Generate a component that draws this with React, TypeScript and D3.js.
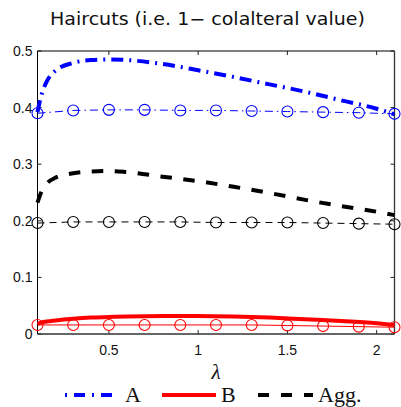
import React from "react";
import * as d3 from "d3";

const W = 401;
const H = 407;

// Thick curves (fine λ grid)
const lambdaFine = [0.1, 0.12, 0.15, 0.2, 0.3, 0.4, 0.5, 0.6, 0.8, 1.0, 1.2, 1.4, 1.6, 1.8, 2.0, 2.1];
const seriesA = [0.392, 0.42, 0.445, 0.465, 0.479, 0.484, 0.485, 0.484, 0.477, 0.466, 0.454, 0.441, 0.428, 0.413, 0.398, 0.388];
const seriesB = [0.018, 0.02, 0.022, 0.024, 0.027, 0.029, 0.03, 0.031, 0.032, 0.032, 0.031, 0.029, 0.026, 0.023, 0.019, 0.016];
const seriesAgg = [0.232, 0.25, 0.265, 0.276, 0.284, 0.287, 0.288, 0.286, 0.278, 0.27, 0.26, 0.249, 0.237, 0.226, 0.216, 0.21];

// Marker series (coarse λ grid)
const lambdaMarks = [0.1, 0.3, 0.5, 0.7, 0.9, 1.1, 1.3, 1.5, 1.7, 1.9, 2.1];
const marksA = [0.39, 0.395, 0.396, 0.396, 0.395, 0.395, 0.394, 0.393, 0.392, 0.391, 0.389];
const marksB = [0.016, 0.016, 0.016, 0.016, 0.016, 0.016, 0.016, 0.015, 0.014, 0.013, 0.012];
const marksAgg = [0.196, 0.198, 0.198, 0.198, 0.198, 0.197, 0.197, 0.197, 0.196, 0.195, 0.194];

const xTicks = [0.5, 1, 1.5, 2];
const yTicks = [0, 0.1, 0.2, 0.3, 0.4, 0.5];
const yTickLabels = ["0", "0.1", "0.2", "0.3", "0.4", "0.5"];
const xTickLabels = ["0.5", "1", "1.5", "2"];

const legendNames = ["A", "B", "Agg."];

const L = 37.5, R = 394.5, T = 51, B = 334;

export default function App() {
  const x = d3.scaleLinear().domain([0.1, 2.1]).range([L, R]);
  const y = d3.scaleLinear().domain([0, 0.5]).range([B, T]);

  const lineThick = (vals: number[]) =>
    d3.line<number>().x((_, i) => x(lambdaFine[i])).y((d) => y(d)).curve(d3.curveMonotoneX)(vals) || "";
  const lineMarks = (vals: number[]) =>
    d3.line<number>().x((_, i) => x(lambdaMarks[i])).y((d) => y(d))(vals) || "";

  const blue = "#0000ff";
  const red = "#ff0000";
  const black = "#000000";

  const markerSeries = [
    { vals: marksA, color: blue, dash: "8,4,1.5,4" },
    { vals: marksAgg, color: black, dash: "7,5" },
    { vals: marksB, color: red, dash: "none" },
  ];

  const thickSeries = [
    { vals: seriesA, color: blue, dash: "12,6,2,6" },
    { vals: seriesAgg, color: black, dash: "11.5,11.5" },
    { vals: seriesB, color: red, dash: "none" },
  ];

  const legend = [
    { name: legendNames[0], color: blue, dash: "2,7,11,7", x1: 65, x2: 113, tx: 125 },
    { name: legendNames[1], color: red, dash: "none", x1: 162, x2: 216, tx: 221 },
    { name: legendNames[2], color: black, dash: "11,12", x1: 258, x2: 313, tx: 318 },
  ];

  return (
    <svg width={W} height={H} style={{ position: "absolute", left: 0, top: 0, background: "#fff" }}>
      <rect x={0} y={0} width={W} height={H} fill="#fff" />
      <text
        x={207.5}
        y={25}
        textAnchor="middle"
        fontFamily="DejaVu Sans"
        fontSize={17}
        textLength={315}
        lengthAdjust="spacingAndGlyphs"
        fill="#111"
      >
        Haircuts (i.e. 1− colalteral value)
      </text>

      <defs>
        <clipPath id="plotclip">
          <rect x={L - 8} y={T - 8} width={R - L + 16} height={B - T + 16} />
        </clipPath>
      </defs>

      {/* ticks */}
      {xTicks.map((t) => (
        <g key={"xt" + t}>
          <line x1={x(t)} x2={x(t)} y1={B} y2={B - 4} stroke="#222" strokeWidth={1} />
          <line x1={x(t)} x2={x(t)} y1={T} y2={T + 4} stroke="#222" strokeWidth={1} />
        </g>
      ))}
      {yTicks.map((t) => (
        <g key={"yt" + t}>
          <line x1={L} x2={L + 4} y1={y(t)} y2={y(t)} stroke="#222" strokeWidth={1} />
          <line x1={R} x2={R - 4} y1={y(t)} y2={y(t)} stroke="#222" strokeWidth={1} />
        </g>
      ))}

      {/* frame */}
      <line x1={L} x2={R} y1={T} y2={T} stroke="#000" strokeWidth={1} />
      <line x1={L} x2={L} y1={T} y2={B} stroke="#000" strokeWidth={1} />
      <line x1={R} x2={R} y1={T} y2={B} stroke="#333" strokeWidth={1.3} />
      <line x1={L} x2={R} y1={B} y2={B} stroke="#333" strokeWidth={1.3} />

      {/* tick labels */}
      {xTicks.map((t, i) => (
        <text key={"xl" + t} x={x(t)} y={355} textAnchor="middle" fontFamily="Liberation Sans" fontSize={14} fill="#111">
          {xTickLabels[i]}
        </text>
      ))}
      {yTicks.map((t, i) => (
        <text key={"yl" + t} x={32.5} y={y(t) + 5} textAnchor="end" fontFamily="Liberation Sans" fontSize={14} fill="#111">
          {yTickLabels[i]}
        </text>
      ))}

      <g clipPath="url(#plotclip)">
        {markerSeries.map((s, k) => (
          <g key={"ms" + k}>
            <path d={lineMarks(s.vals)} fill="none" stroke={s.color} strokeWidth={1} strokeDasharray={s.dash} />
            {s.vals.map((v, i) => (
              <circle key={i} cx={x(lambdaMarks[i])} cy={y(v)} r={5.5} fill="none" stroke={s.color} strokeWidth={1.1} />
            ))}
          </g>
        ))}
        {thickSeries.map((s, k) => (
          <path key={"ts" + k} d={lineThick(s.vals)} fill="none" stroke={s.color} strokeWidth={4} strokeDasharray={s.dash} />
        ))}
      </g>

      {/* x label */}
      <text x={216} y={379} textAnchor="middle" fontFamily="Liberation Serif" fontStyle="italic" fontSize={21} fill="#111">
        λ
      </text>

      {/* legend */}
      {legend.map((l) => (
        <g key={l.name}>
          <line x1={l.x1} x2={l.x2} y1={395} y2={395} stroke={l.color} strokeWidth={4} strokeDasharray={l.dash} />
          <text x={l.tx} y={402} fontFamily="Liberation Serif" fontSize={22} fill="#111">
            {l.name}
          </text>
        </g>
      ))}
    </svg>
  );
}
